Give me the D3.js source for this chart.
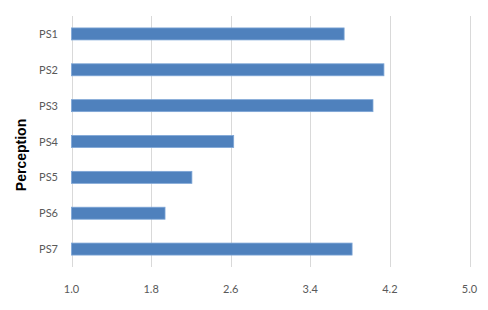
<!DOCTYPE html>
<html><head><meta charset="utf-8">
<script src="https://cdn.jsdelivr.net/npm/d3@7"></script>
<style>body{margin:0;background:#fff;}svg{display:block;}</style>
</head><body>
<script>
const categories = ["PS1","PS2","PS3","PS4","PS5","PS6","PS7"];
const values = [3.74, 4.14, 4.03, 2.63, 2.21, 1.94, 3.82];
const xTicks = [1.0, 1.8, 2.6, 3.4, 4.2, 5.0];
const yTitle = "Perception";

const W = 488, H = 310;
const svg = d3.select("body").append("svg").attr("width", W).attr("height", H);
const x = d3.scaleLinear().domain([1.0, 5.0]).range([71.5, 469.5]);
const y = d3.scaleBand().domain(categories).range([16, 267]).paddingInner(0.66).paddingOuter(0.33);

// gridlines
svg.append("g").selectAll("line").data(xTicks).join("line")
  .attr("x1", d => Math.round(x(d)) + 0.5).attr("x2", d => Math.round(x(d)) + 0.5)
  .attr("y1", 16).attr("y2", 267)
  .attr("stroke", "#d9d9d9").attr("stroke-width", 1);

// bars
svg.append("g").selectAll("rect").data(categories).join("rect")
  .attr("x", x(1.0))
  .attr("y", (d) => y(d) + y.bandwidth()/2 - 6)
  .attr("width", (d, i) => x(values[i]) - x(1.0))
  .attr("height", 12)
  .attr("fill", "#4f81bd")
  .attr("stroke", "#7ea6d6").attr("stroke-width", 0.8);

// x tick labels
svg.append("g").selectAll("text").data(xTicks).join("text")
  .attr("x", d => x(d)).attr("y", 293)
  .attr("text-anchor", "middle")
  .attr("font-family", "Lato, 'Open Sans', sans-serif").attr("font-size", 11)
  .attr("fill", "#595959")
  .text(d => d.toFixed(1));

// category labels
svg.append("g").selectAll("text").data(categories).join("text")
  .attr("x", 58).attr("y", d => y(d) + y.bandwidth()/2 + 4)
  .attr("text-anchor", "end")
  .attr("font-family", "Lato, 'Open Sans', sans-serif").attr("font-size", 11)
  .attr("fill", "#595959")
  .text(d => d);

// y title
svg.append("text")
  .attr("transform", "translate(26,155) rotate(-90)")
  .attr("text-anchor", "middle")
  .attr("font-family", "'Liberation Sans', Arial, sans-serif").attr("font-size", 14)
  .attr("font-weight", "bold").attr("fill", "#000")
  .text(yTitle);
</script>
</body></html>
